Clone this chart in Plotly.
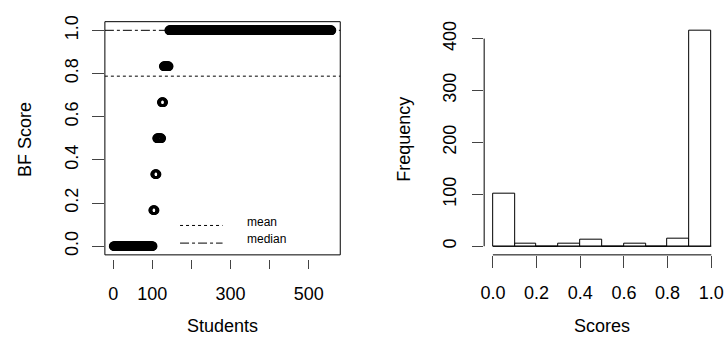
import numpy as np
import plotly.graph_objects as go

# ---- data ----
score_levels = [0.0, 1/6, 1/3, 1/2, 2/3, 5/6, 1.0]
score_counts = [101, 5, 5, 12, 5, 14, 416]
x_ticks_left = [0, 100, 200, 300, 400, 500]
x_ticktext_left = ["0", "100", "", "300", "", "500"]
y_ticks_left = [0.0, 0.2, 0.4, 0.6, 0.8, 1.0]
y_ticktext_left = ["0.0", "0.2", "0.4", "0.6", "0.8", "1.0"]
hist_breaks = [0.0, 0.1, 0.2, 0.3, 0.4, 0.5, 0.6, 0.7, 0.8, 0.9, 1.0]
x_ticks_right = [0.0, 0.2, 0.4, 0.6, 0.8, 1.0]
x_ticktext_right = ["0.0", "0.2", "0.4", "0.6", "0.8", "1.0"]
y_ticks_right = [0, 100, 200, 300, 400]

# expand to per-student sorted scores
scores = np.repeat(np.array(score_levels), score_counts)
N = len(scores)
students = np.arange(1, N + 1)
mean_v = float(np.mean(scores))
median_v = float(np.median(scores))

# right-closed histogram (R style)
br = np.array(hist_breaks)
idx = np.clip(np.searchsorted(br, scores, side="left") - 1, 0, len(br) - 2)
hist_counts = np.bincount(idx, minlength=len(br) - 1)
bin_centers = (br[:-1] + br[1:]) / 2
bin_width = br[1] - br[0]

W, H = 728, 346
FONT = "Liberation Sans, Arial, sans-serif"

def px(x):
    return x / W

def py(y):
    return 1 - y / H

fig = go.Figure()

fig.add_trace(go.Scatter(
    x=students, y=scores, mode="markers",
    marker=dict(symbol="circle-open", size=7, color="black",
                line=dict(color="black", width=2.5)),
    xaxis="x", yaxis="y", showlegend=False, cliponaxis=False,
))

fig.add_trace(go.Bar(
    x=bin_centers, y=hist_counts, width=bin_width,
    marker=dict(color="white", line=dict(color="black", width=1)),
    xaxis="x2", yaxis="y2", showlegend=False,
))

pad = 0.04 * (N - 1)
tickfont = dict(family=FONT, size=18, color="black")

fig.update_layout(
    width=W, height=H, margin=dict(l=0, r=0, t=0, b=0),
    paper_bgcolor="white", plot_bgcolor="white",
    font=dict(family=FONT, color="black"),
    bargap=0,
    xaxis=dict(domain=[px(102), px(340)], range=[1 - pad, N + pad],
               tickvals=x_ticks_left, ticktext=x_ticktext_left,
               ticks="outside", ticklen=9, tickcolor="#444", tickwidth=1,
               showline=False, showgrid=False, zeroline=False,
               anchor="free", position=py(258), tickfont=tickfont,
               ticklabelstandoff=10),
    yaxis=dict(domain=[py(254), py(16)], range=[-0.04, 1.04],
               tickvals=y_ticks_left, ticktext=y_ticktext_left,
               tickangle=-90, ticks="outside", ticklen=12, tickcolor="#444",
               showline=False, showgrid=False, zeroline=False,
               anchor="x", tickfont=tickfont, ticklabelstandoff=7),
    xaxis2=dict(domain=[px(485.5), px(724)], range=[-0.04, 1.04],
                tickvals=x_ticks_right, ticktext=x_ticktext_right,
                ticks="outside", ticklen=12, tickcolor="#444",
                showline=False, showgrid=False, zeroline=False,
                anchor="y2", tickfont=tickfont, ticklabelstandoff=10),
    yaxis2=dict(domain=[py(254), py(16)],
                range=[-0.04 * max(hist_counts), 1.04 * max(hist_counts)],
                tickvals=y_ticks_right, tickangle=-90,
                ticks="outside", ticklen=11, tickcolor="#444",
                showline=False, showgrid=False, zeroline=False,
                anchor="x2", tickfont=tickfont, ticklabelstandoff=9),
)

shapes = [
    # box around left plot
    dict(type="rect", xref="paper", yref="paper", x0=px(102), x1=px(340),
         y0=py(254), y1=py(16), line=dict(color="black", width=1)),
    # mean & median lines
    dict(type="line", xref="x domain", yref="y", x0=0, x1=1, y0=mean_v, y1=mean_v,
         line=dict(color="black", width=1, dash="dot")),
    dict(type="line", xref="x domain", yref="y", x0=0, x1=1, y0=median_v, y1=median_v,
         line=dict(color="black", width=1, dash="dashdot")),
    # legend samples
    dict(type="line", xref="paper", yref="paper", x0=px(178), x1=px(221),
         y0=py(224), y1=py(224), line=dict(color="black", width=1, dash="dot")),
    dict(type="line", xref="paper", yref="paper", x0=px(178), x1=px(221),
         y0=py(242), y1=py(242), line=dict(color="black", width=1, dash="dashdot")),
    # histogram axis lines (R style: span first..last tick)
    dict(type="line", xref="x2", yref="paper", x0=x_ticks_right[0], x1=x_ticks_right[-1],
         y0=py(254), y1=py(254), line=dict(color="black", width=1)),
    dict(type="line", xref="paper", yref="y2", x0=px(485.5), x1=px(485.5),
         y0=y_ticks_right[0], y1=y_ticks_right[-1], line=dict(color="black", width=1)),
    # histogram baseline along bar bottoms
    dict(type="line", xref="x2", yref="y2", x0=br[0], x1=br[-1], y0=0, y1=0,
         line=dict(color="black", width=1)),
]
fig.update_layout(shapes=shapes)

titlefont = dict(family=FONT, size=18, color="black")
legfont = dict(family=FONT, size=12, color="black")
fig.update_layout(annotations=[
    dict(text="BF Score", xref="paper", yref="paper", x=px(21), y=py(136),
         textangle=-90, showarrow=False, font=titlefont, xanchor="center", yanchor="middle"),
    dict(text="Students", xref="paper", yref="paper", x=px(221), y=py(327),
         showarrow=False, font=titlefont, xanchor="center", yanchor="middle"),
    dict(text="Frequency", xref="paper", yref="paper", x=px(405), y=py(136),
         textangle=-90, showarrow=False, font=titlefont, xanchor="center", yanchor="middle"),
    dict(text="Scores", xref="paper", yref="paper", x=px(604.5), y=py(327),
         showarrow=False, font=titlefont, xanchor="center", yanchor="middle"),
    dict(text="mean", xref="paper", yref="paper", x=px(244), y=py(220),
         showarrow=False, font=legfont, xanchor="left", yanchor="middle"),
    dict(text="median", xref="paper", yref="paper", x=px(244), y=py(238),
         showarrow=False, font=legfont, xanchor="left", yanchor="middle"),
])

fig.write_html("out.html")
